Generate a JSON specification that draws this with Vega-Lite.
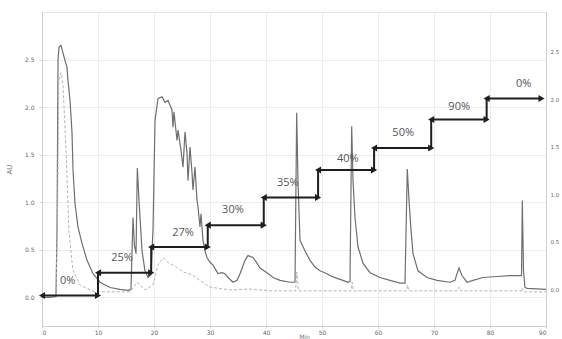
{
  "$schema": "https://vega.github.io/schema/vega-lite/v6.json",
  "width": 504,
  "height": 314,
  "autosize": "none",
  "padding": {"left": 42, "top": 12, "right": 16, "bottom": 13},
  "background": "white",
  "config": {
    "view": {"stroke": "#e2e2e2"},
    "axis": {"labelFontSize": 6, "labelColor": "#666", "domainColor": "#cfcfcf", "tickColor": "#cfcfcf", "tickSize": 3, "gridColor": "#ececec", "titleColor": "#777", "titleFontSize": 7, "titleFontWeight": "normal", "labelFont": "DejaVu Sans", "titleFont": "DejaVu Sans"}
  },
  "datasets": {
    "main": [
      {"t": 0, "y": 0}, {"t": 1.43, "y": 0}, {"t": 2.5, "y": 0.01}, {"t": 2.68, "y": 0.71}, {"t": 2.77, "y": 1.55},
      {"t": 2.86, "y": 2.49}, {"t": 3.04, "y": 2.63}, {"t": 3.39, "y": 2.65}, {"t": 3.75, "y": 2.57}, {"t": 4.11, "y": 2.49},
      {"t": 4.46, "y": 2.42}, {"t": 4.64, "y": 2.28}, {"t": 5.0, "y": 2.07}, {"t": 5.36, "y": 1.73}, {"t": 5.54, "y": 1.34},
      {"t": 5.89, "y": 0.99}, {"t": 6.43, "y": 0.74}, {"t": 7.14, "y": 0.57}, {"t": 8.04, "y": 0.39}, {"t": 9.11, "y": 0.25},
      {"t": 10.36, "y": 0.16}, {"t": 12.14, "y": 0.105}, {"t": 13.93, "y": 0.084}, {"t": 15.36, "y": 0.074}, {"t": 15.89, "y": 0.084},
      {"t": 16.25, "y": 0.84}, {"t": 16.5, "y": 0.55}, {"t": 16.79, "y": 0.46}, {"t": 17.02, "y": 1.36}, {"t": 17.32, "y": 1.02},
      {"t": 17.86, "y": 0.49}, {"t": 18.39, "y": 0.28}, {"t": 18.93, "y": 0.21}, {"t": 19.46, "y": 0.24}, {"t": 19.82, "y": 0.71},
      {"t": 20.18, "y": 1.86}, {"t": 20.71, "y": 2.09}, {"t": 21.43, "y": 2.11}, {"t": 21.96, "y": 2.05}, {"t": 22.5, "y": 2.07},
      {"t": 22.86, "y": 2.02}, {"t": 23.21, "y": 1.97}, {"t": 23.39, "y": 1.79}, {"t": 23.57, "y": 1.95}, {"t": 24.11, "y": 1.65},
      {"t": 24.29, "y": 1.76}, {"t": 24.64, "y": 1.62}, {"t": 24.82, "y": 1.55}, {"t": 25.18, "y": 1.37}, {"t": 25.54, "y": 1.74},
      {"t": 25.89, "y": 1.52}, {"t": 26.07, "y": 1.23}, {"t": 26.43, "y": 1.58}, {"t": 26.79, "y": 1.31}, {"t": 26.96, "y": 1.13},
      {"t": 27.32, "y": 1.37}, {"t": 27.68, "y": 1.02}, {"t": 27.86, "y": 0.95}, {"t": 28.21, "y": 0.74}, {"t": 28.39, "y": 0.88},
      {"t": 28.75, "y": 0.6}, {"t": 29.11, "y": 0.49}, {"t": 29.46, "y": 0.42}, {"t": 30.0, "y": 0.37}, {"t": 30.54, "y": 0.34},
      {"t": 31.43, "y": 0.25}, {"t": 32.14, "y": 0.26}, {"t": 32.68, "y": 0.25}, {"t": 33.21, "y": 0.21}, {"t": 34.11, "y": 0.16},
      {"t": 34.82, "y": 0.18}, {"t": 35.36, "y": 0.25}, {"t": 36.25, "y": 0.39}, {"t": 36.79, "y": 0.44}, {"t": 37.68, "y": 0.42},
      {"t": 38.39, "y": 0.36}, {"t": 38.93, "y": 0.31}, {"t": 40.18, "y": 0.26}, {"t": 41.25, "y": 0.21}, {"t": 42.5, "y": 0.18},
      {"t": 44.29, "y": 0.16}, {"t": 45.18, "y": 0.16}, {"t": 45.48, "y": 1.94}, {"t": 45.71, "y": 1.23}, {"t": 46.07, "y": 0.6},
      {"t": 46.96, "y": 0.49}, {"t": 47.86, "y": 0.39}, {"t": 48.75, "y": 0.32}, {"t": 49.64, "y": 0.28}, {"t": 50.89, "y": 0.25},
      {"t": 51.43, "y": 0.23}, {"t": 52.68, "y": 0.2}, {"t": 53.75, "y": 0.18}, {"t": 54.64, "y": 0.16}, {"t": 55.0, "y": 0.17},
      {"t": 55.3, "y": 1.8}, {"t": 55.54, "y": 1.23}, {"t": 55.89, "y": 0.84}, {"t": 56.43, "y": 0.53}, {"t": 57.32, "y": 0.36},
      {"t": 58.57, "y": 0.26}, {"t": 60.36, "y": 0.21}, {"t": 62.14, "y": 0.18}, {"t": 63.93, "y": 0.15}, {"t": 64.82, "y": 0.15},
      {"t": 65.23, "y": 1.35}, {"t": 65.54, "y": 1.02}, {"t": 65.89, "y": 0.71}, {"t": 66.25, "y": 0.46}, {"t": 67.14, "y": 0.28},
      {"t": 68.75, "y": 0.21}, {"t": 70.54, "y": 0.18}, {"t": 72.86, "y": 0.16}, {"t": 73.75, "y": 0.18}, {"t": 74.11, "y": 0.25},
      {"t": 74.46, "y": 0.31}, {"t": 75.0, "y": 0.23}, {"t": 75.89, "y": 0.16}, {"t": 76.96, "y": 0.18}, {"t": 78.75, "y": 0.21},
      {"t": 81.25, "y": 0.22}, {"t": 83.57, "y": 0.23}, {"t": 85.63, "y": 0.23}, {"t": 85.77, "y": 1.02}, {"t": 85.98, "y": 0.28},
      {"t": 86.25, "y": 0.105}, {"t": 86.61, "y": 0.095}, {"t": 90, "y": 0.084}
    ],
    "light": [
      {"t": 0, "y": -0.07}, {"t": 2.5, "y": -0.07}, {"t": 2.8, "y": 0.94}, {"t": 3.0, "y": 2.2}, {"t": 3.4, "y": 2.28},
      {"t": 3.75, "y": 2.15}, {"t": 4.3, "y": 1.46}, {"t": 4.8, "y": 0.62}, {"t": 5.5, "y": 0.2}, {"t": 6.8, "y": 0.04},
      {"t": 9.5, "y": -0.03}, {"t": 15.7, "y": -0.03}, {"t": 17, "y": 0.07}, {"t": 18.4, "y": -0.01}, {"t": 19.8, "y": 0.04},
      {"t": 20.7, "y": 0.25}, {"t": 21.6, "y": 0.33}, {"t": 22.5, "y": 0.28}, {"t": 23.75, "y": 0.24}, {"t": 25.2, "y": 0.18},
      {"t": 26.8, "y": 0.15}, {"t": 28.2, "y": 0.09}, {"t": 30, "y": 0.02}, {"t": 33.6, "y": -0.01}, {"t": 37.1, "y": 0},
      {"t": 40.7, "y": -0.02}, {"t": 45.3, "y": -0.02}, {"t": 45.5, "y": 0.18}, {"t": 45.8, "y": -0.02}, {"t": 55.2, "y": -0.02},
      {"t": 55.4, "y": 0.07}, {"t": 55.6, "y": -0.02}, {"t": 65.1, "y": -0.02}, {"t": 65.3, "y": 0.04}, {"t": 65.5, "y": -0.02},
      {"t": 74.2, "y": -0.02}, {"t": 74.5, "y": 0.02}, {"t": 74.8, "y": -0.02}, {"t": 85.7, "y": -0.02}, {"t": 85.8, "y": 0.01},
      {"t": 86, "y": -0.03}, {"t": 90, "y": -0.03}
    ],
    "grad": [
      {"start": 0, "end": 10, "level": 0.02, "next": 0.26, "label": "0%", "lx": 4.6, "ly": 0.17},
      {"start": 10, "end": 19.5, "level": 0.26, "next": 0.53, "label": "25%", "lx": 14.3, "ly": 0.41},
      {"start": 19.5, "end": 29.6, "level": 0.53, "next": 0.76, "label": "27%", "lx": 25.2, "ly": 0.68},
      {"start": 29.6, "end": 39.6, "level": 0.76, "next": 1.05, "label": "30%", "lx": 34.1, "ly": 0.92},
      {"start": 39.6, "end": 49.3, "level": 1.05, "next": 1.34, "label": "35%", "lx": 43.9, "ly": 1.2},
      {"start": 49.3, "end": 59.3, "level": 1.34, "next": 1.57, "label": "40%", "lx": 54.6, "ly": 1.46},
      {"start": 59.3, "end": 69.5, "level": 1.57, "next": 1.87, "label": "50%", "lx": 64.5, "ly": 1.73},
      {"start": 69.5, "end": 79.4, "level": 1.87, "next": 2.09, "label": "90%", "lx": 74.5, "ly": 2.0},
      {"start": 79.4, "end": 89.2, "level": 2.09, "next": null, "label": "0%", "lx": 86, "ly": 2.24}
    ]
  },
  "resolve": {"scale": {"y": "independent"}},
  "layer": [
    {
      "data": {"name": "main"},
      "mark": {"type": "line", "color": "#6f6f6f", "strokeWidth": 1.2, "interpolate": "linear"},
      "encoding": {
        "x": {"field": "t", "type": "quantitative", "scale": {"domain": [0, 90], "nice": false, "zero": false},
          "axis": {"values": [0,5,10,15,20,25,30,35,40,45,50,55,60,65,70,75,80,85,90], "title": "Min", "titleFontSize": 6, "titleY": 12, "titleX": 262, "titleBaseline": "alphabetic", "tickSize": 2, "labelPadding": 1, "grid": true}},
        "y": {"field": "y", "type": "quantitative", "scale": {"domain": [-0.3, 3.0], "nice": false, "zero": false},
          "axis": {"values": [0, 0.5, 1, 1.5, 2, 2.5], "format": ".1f", "title": "AU", "titlePadding": 12, "labelPadding": 5, "grid": true}}
      }
    },
    {
      "data": {"name": "light"},
      "mark": {"type": "line", "color": "#b5b5b5", "strokeWidth": 1, "strokeDash": [3, 2]},
      "encoding": {
        "x": {"field": "t", "type": "quantitative", "scale": {"domain": [0, 90], "nice": false, "zero": false}},
        "y": {"field": "y", "type": "quantitative", "scale": {"domain": [-0.39, 2.92], "nice": false, "zero": false},
          "axis": {"orient": "right", "values": [0, 0.5, 1, 1.5, 2, 2.5], "format": ".1f", "title": null, "tickSize": 0, "labelPadding": 4, "labelFontSize": 5.5, "labelColor": "#666", "grid": false}}
      }
    },
    {
      "data": {"name": "grad"},
      "layer": [
        {
          "mark": {"type": "rule", "color": "#1e1e1e", "strokeWidth": 2},
          "encoding": {
            "x": {"field": "start", "type": "quantitative", "scale": {"domain": [0, 90], "nice": false, "zero": false}},
            "x2": {"field": "end"},
            "y": {"field": "level", "type": "quantitative", "scale": {"domain": [-0.3, 3.0], "nice": false, "zero": false}, "axis": null}
          }
        },
        {
          "transform": [{"filter": "datum.next != null"}],
          "mark": {"type": "rule", "color": "#1e1e1e", "strokeWidth": 2},
          "encoding": {
            "x": {"field": "end", "type": "quantitative"},
            "y": {"field": "level", "type": "quantitative"},
            "y2": {"field": "next"}
          }
        },
        {
          "mark": {"type": "point", "shape": "triangle-left", "filled": true, "color": "#1e1e1e", "size": 50, "opacity": 1},
          "encoding": {
            "x": {"field": "start", "type": "quantitative"},
            "y": {"field": "level", "type": "quantitative"}
          }
        },
        {
          "mark": {"type": "point", "shape": "triangle-right", "filled": true, "color": "#1e1e1e", "size": 50, "opacity": 1},
          "encoding": {
            "x": {"field": "end", "type": "quantitative"},
            "y": {"field": "level", "type": "quantitative"}
          }
        },
        {
          "mark": {"type": "text", "fontSize": 11, "color": "#555", "font": "Open Sans"},
          "encoding": {
            "x": {"field": "lx", "type": "quantitative"},
            "y": {"field": "ly", "type": "quantitative"},
            "text": {"field": "label"}
          }
        }
      ]
    }
  ]
}
